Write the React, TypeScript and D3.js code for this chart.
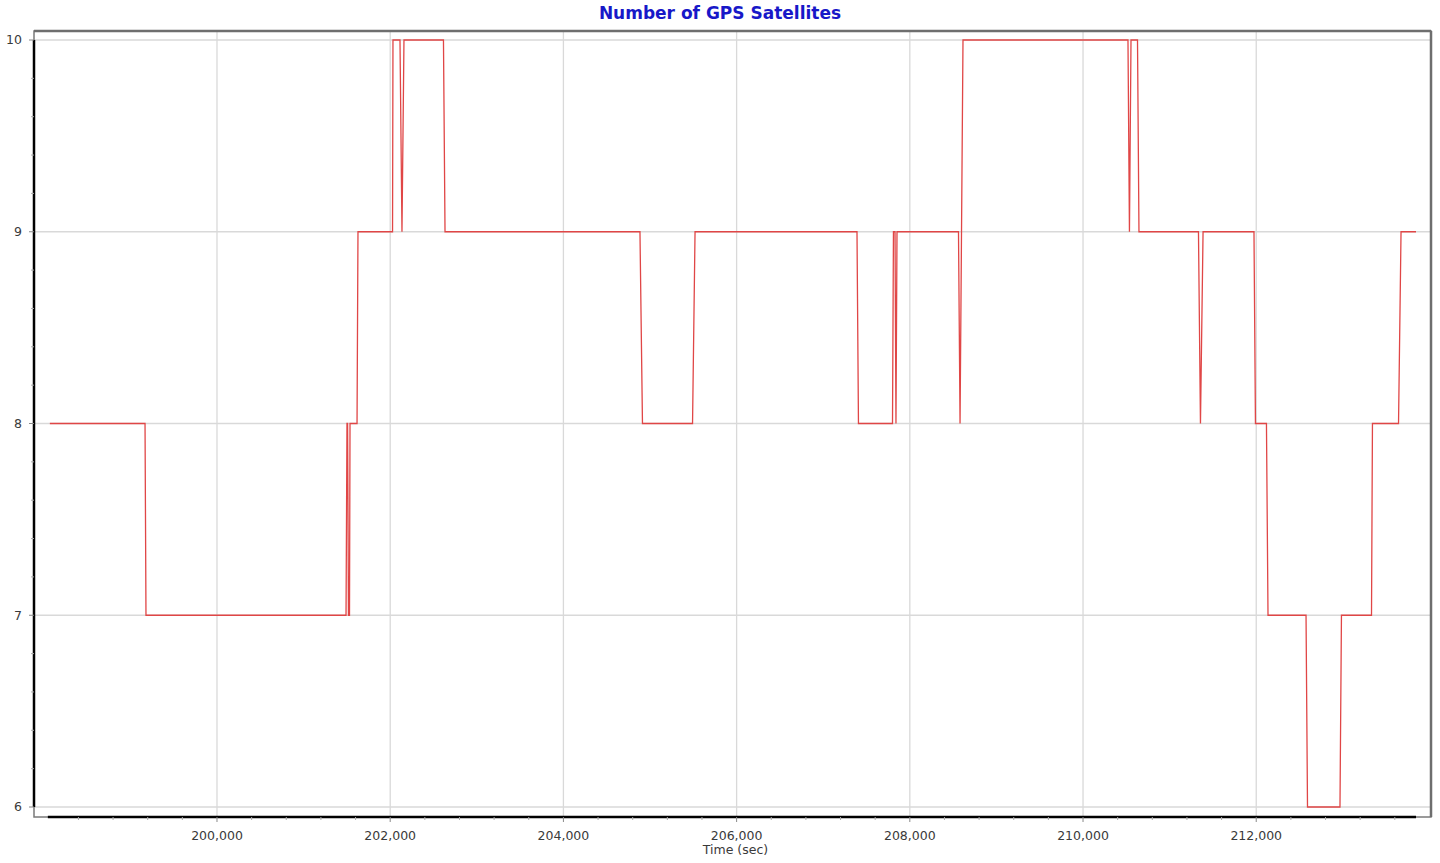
import React from "react";
import * as d3 from "d3";

const times: number[] = [
  198070, 199169, 199180, 201490, 201501, 201508, 201518, 201530, 201536, 201617, 201628,
  202027, 202032, 202113, 202136, 202159, 202615, 202633,
  204884, 204913, 205491, 205520,
  207390, 207407, 207800, 207811, 207829, 207840, 207852,
  208562, 208580, 208614,
  210519, 210536, 210554, 210629, 210646,
  211333, 211356, 211386, 211974, 211991,
  212118, 212136, 212575, 212592, 212967, 212984,
  213331, 213342, 213643, 213672, 213845,
];
const satellites: number[] = [
  8, 8, 7, 7, 8, 8, 7, 7, 8, 8, 9,
  9, 10, 10, 9, 10, 10, 9,
  9, 8, 8, 9,
  9, 8, 8, 9, 9, 8, 9,
  9, 8, 10,
  10, 9, 10, 10, 9,
  9, 8, 9, 9, 8,
  8, 7, 7, 6, 6, 7,
  7, 8, 8, 9, 9,
];
const xTickValues: number[] = [200000, 202000, 204000, 206000, 208000, 210000, 212000];
const yTickValues: number[] = [6, 7, 8, 9, 10];

const titleText = "Number of GPS Satellites";
const xAxisTitle = "Time (sec)";

export default function App() {
  const W = 1440;
  const H = 863;
  const left = 34;
  const right = 1431;
  const top = 31;
  const bottom = 817;

  const x = d3.scaleLinear().domain([197887, 214018]).range([left, right]);
  const y = d3.scaleLinear().domain([6, 10]).range([807, 40]);

  const data = times.map((t, i) => [t, satellites[i]] as [number, number]);
  const line = d3
    .line<[number, number]>()
    .x((d) => x(d[0]))
    .y((d) => y(d[1]));

  const xMinor: number[] = d3.range(198000, 214001, 400).filter((v) => v % 2000 !== 0);
  const yMinor: number[] = d3.range(6, 10.001, 0.2).filter((v) => Math.abs(v - Math.round(v)) > 0.01);

  const tMin = d3.min(times) as number;
  const tMax = d3.max(times) as number;
  const font = "'DejaVu Sans', Verdana, sans-serif";

  return (
    <svg
      width={W}
      height={H}
      style={{ position: "absolute", left: 0, top: 0, background: "#fff" }}
      fontFamily={font}
    >
      <rect x={0} y={0} width={W} height={H} fill="#fff" />
      <text
        x={720}
        y={19}
        textAnchor="middle"
        fontSize={17}
        fontWeight="bold"
        fill="#1818c8"
      >
        {titleText}
      </text>

      {/* grid */}
      {xTickValues.map((v) => (
        <line key={"gx" + v} x1={x(v)} x2={x(v)} y1={top} y2={bottom} stroke="#d9d9d9" strokeWidth={1.3} />
      ))}
      {yTickValues.map((v) => (
        <line key={"gy" + v} x1={left} x2={right} y1={y(v)} y2={y(v)} stroke="#d9d9d9" strokeWidth={1.3} />
      ))}

      {/* frame */}
      <rect x={left} y={top} width={right - left} height={bottom - top} fill="none" stroke="#7a7a7a" strokeWidth={1.5} />
      <line x1={left} x2={right} y1={top} y2={top} stroke="#6e6e6e" strokeWidth={2.5} />
      <line x1={right} x2={right} y1={top} y2={bottom} stroke="#6e6e6e" strokeWidth={2.5} />

      {/* data line */}
      <path d={line(data) || ""} fill="none" stroke="#e04646" strokeWidth={1.3} strokeLinejoin="miter" />

      {/* axis lines spanning data extent */}
      <line x1={left} x2={left} y1={y(10)} y2={y(6)} stroke="#000" strokeWidth={2.5} />
      <line x1={x(tMin) - 2} x2={x(tMax)} y1={bottom} y2={bottom} stroke="#000" strokeWidth={2.5} />

      {/* y ticks */}
      {yTickValues.map((v) => (
        <g key={"yt" + v}>
          <line x1={left - 5} x2={left} y1={y(v)} y2={y(v)} stroke="#888" strokeWidth={1} />
          <text x={22} y={y(v)} dy="0.35em" textAnchor="end" fontSize={12.5} fill="#3a3a3a">
            {v}
          </text>
        </g>
      ))}
      {yMinor.map((v) => (
        <line key={"ym" + v} x1={left - 3} x2={left} y1={y(v)} y2={y(v)} stroke="#aaa" strokeWidth={1} />
      ))}

      {/* x ticks */}
      {xTickValues.map((v) => (
        <g key={"xt" + v}>
          <line x1={x(v)} x2={x(v)} y1={bottom} y2={bottom + 5} stroke="#888" strokeWidth={1} />
          <text x={x(v)} y={840} textAnchor="middle" fontSize={12.5} fill="#3a3a3a">
            {d3.format(",")(v)}
          </text>
        </g>
      ))}
      {xMinor.map((v) => (
        <line key={"xm" + v} x1={x(v)} x2={x(v)} y1={bottom} y2={bottom + 3} stroke="#aaa" strokeWidth={1} />
      ))}

      <text x={(left + right) / 2 + 3} y={854} textAnchor="middle" fontSize={12.5} fill="#3a3a3a">
        {xAxisTitle}
      </text>
    </svg>
  );
}
